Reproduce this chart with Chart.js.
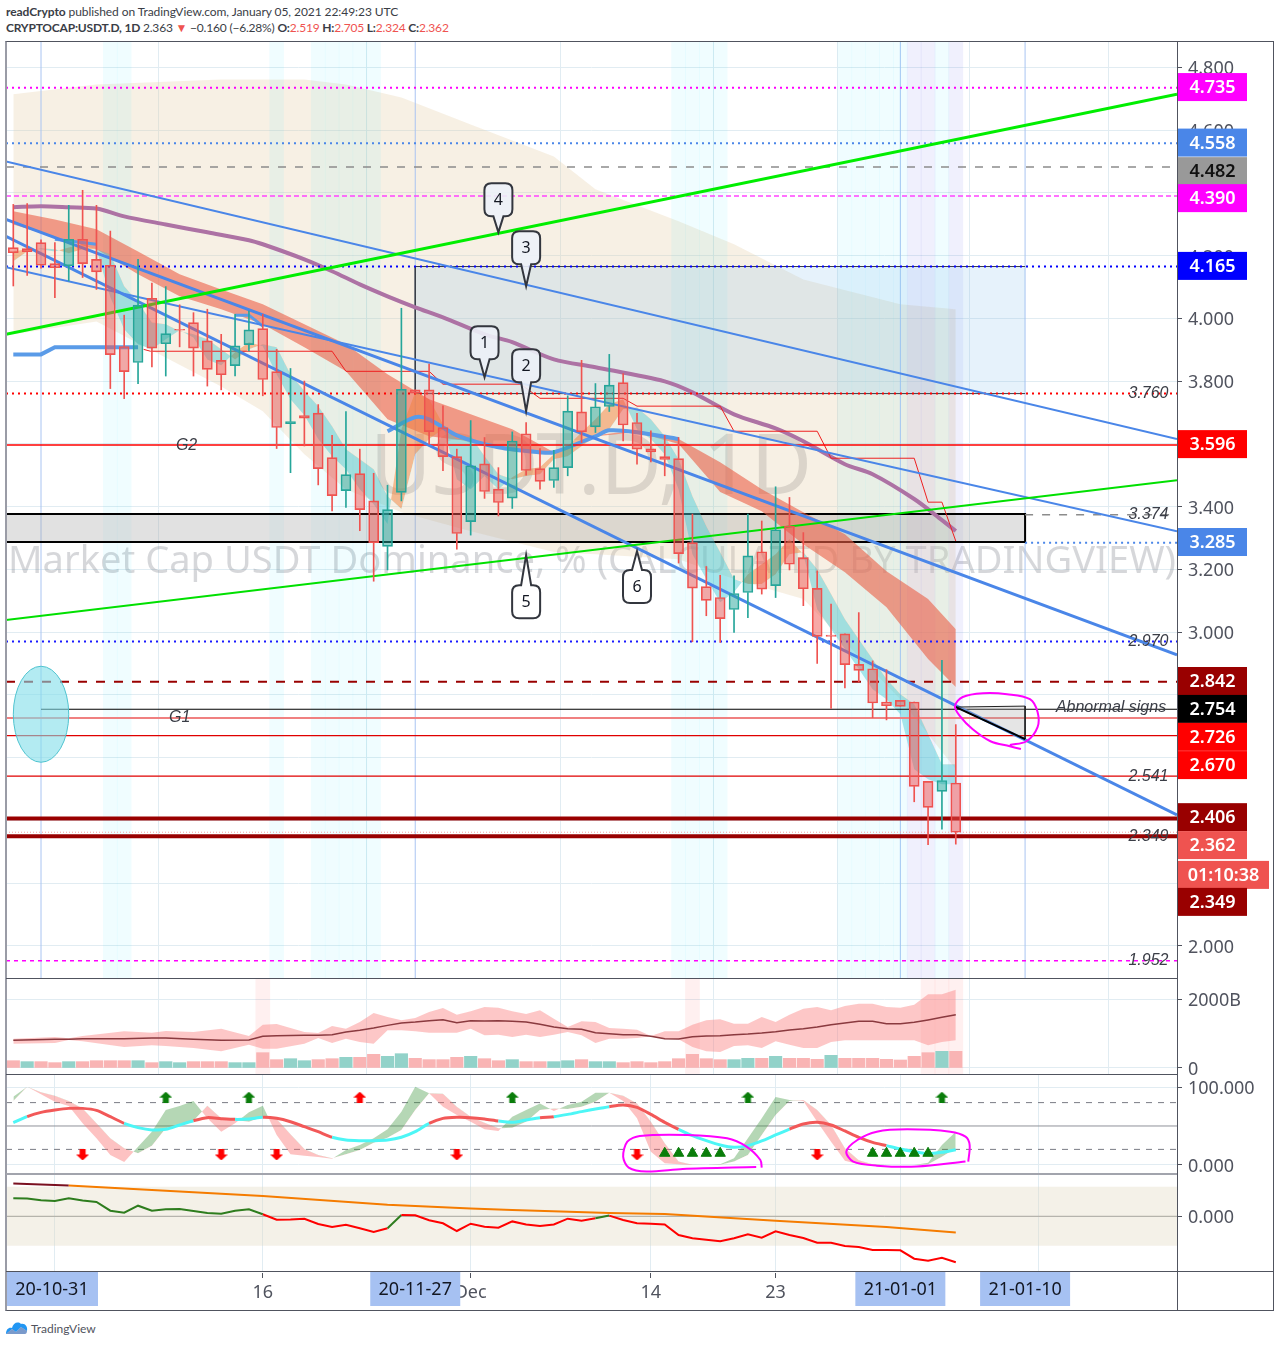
<!DOCTYPE html>
<html>
<head>
<meta charset="utf-8">
<title>USDT.D</title>
<script src="https://cdn.jsdelivr.net/npm/chart.js@4/dist/chart.umd.min.js"></script>
<style>
html,body{margin:0;padding:0;background:#fff;width:1280px;height:1345px;overflow:hidden}
canvas{position:absolute;left:0}
.t{position:absolute;font-family:Lato,"Noto Sans",sans-serif;font-size:12px;color:#3a3d46;white-space:pre}
.r{color:#ef5350}
.ln{position:absolute}
</style>
</head>
<body>
<div class="t" style="left:6px;top:4px;letter-spacing:-.07px"><b>readCrypto</b> published on TradingView.com, January 05, 2021 22:49:23 UTC</div>
<div class="t" style="left:6px;top:20px;letter-spacing:-.2px"><b>CRYPTOCAP:USDT.D, 1D</b> 2.363 <span class="r">▼</span> −0.160 (−6.28%) <b>O:</b><span class="r">2.519</span> <b>H:</b><span class="r">2.705</span> <b>L:</b><span class="r">2.324</span> <b>C:</b><span class="r">2.362</span></div>
<canvas id="cMain" width="1280" height="937" style="top:41px"></canvas>
<canvas id="cVol" width="1280" height="104" style="top:978px"></canvas>
<canvas id="cOsc" width="1280" height="99" style="top:1074px"></canvas>
<canvas id="cMom" width="1280" height="99" style="top:1173px"></canvas>
<canvas id="cAxis" width="1280" height="39" style="top:1272px"></canvas>
<div class="ln" style="left:5px;top:41px;width:1269px;height:1270px;border:1px solid #50535e;border-left:2px solid #9a9ca6;box-sizing:border-box"></div>
<div class="ln" style="left:1177px;top:41px;width:1px;height:1270px;background:#50535e"></div>
<div class="ln" style="left:6px;top:978px;width:1171px;height:1px;background:#50535e"></div>
<div class="ln" style="left:6px;top:1074px;width:1171px;height:1px;background:#50535e"></div>
<div class="ln" style="left:6px;top:1173px;width:1171px;height:2px;background:#a2a4ad"></div>
<div class="ln" style="left:6px;top:1271px;width:1268px;height:1px;background:#50535e"></div>
<svg style="position:absolute;left:5px;top:1320px" width="24" height="16" viewBox="0 0 24 16"><path d="M1 14 C1 9 4 7 7 8 C8 3 13 1 16 4 C20 3 23 7 22 11 L16 7 L11 12 L7 9 Z" fill="#2196f3"/><path d="M1 14 L7 9 L11 12 L16 7 L22 11 C22 13 21 14 20 14 Z" fill="#0d47a1" opacity=".55"/></svg>
<div class="t" style="left:31px;top:1321px;color:#50535e">TradingView</div>
<script>
// ---------- categories ----------
const dates = ['20-10-29','20-10-30','20-10-31','20-11-01','20-11-02','20-11-03','20-11-04','20-11-05','20-11-06','20-11-07','20-11-08','20-11-09','20-11-10','20-11-11','20-11-12','20-11-13','20-11-14','20-11-15','20-11-16','20-11-17','20-11-18','20-11-19','20-11-20','20-11-21','20-11-22','20-11-23','20-11-24','20-11-25','20-11-26','20-11-27','20-11-28','20-11-29','20-11-30','20-12-01','20-12-02','20-12-03','20-12-04','20-12-05','20-12-06','20-12-07','20-12-08','20-12-09','20-12-10','20-12-11','20-12-12','20-12-13','20-12-14','20-12-15','20-12-16','20-12-17','20-12-18','20-12-19','20-12-20','20-12-21','20-12-22','20-12-23','20-12-24','20-12-25','20-12-26','20-12-27','20-12-28','20-12-29','20-12-30','20-12-31','21-01-01','21-01-02','21-01-03','21-01-04','21-01-05'];
// ---------- candles ----------
const open  = [4.225,4.222,4.241,4.174,4.167,4.252,4.188,4.169,3.910,3.859,4.064,3.919,3.965,3.986,3.928,3.866,3.849,3.916,3.967,3.830,3.664,3.690,3.698,3.556,3.451,3.505,3.418,3.273,3.445,3.772,3.772,3.652,3.559,3.352,3.536,3.455,3.427,3.632,3.521,3.483,3.524,3.702,3.654,3.719,3.795,3.668,3.584,3.559,3.553,3.285,3.145,3.110,3.072,3.126,3.256,3.148,3.338,3.237,3.139,2.990,2.994,2.897,2.883,2.777,2.782,2.777,2.524,2.492,2.519];
const high  = [4.363,4.366,4.250,4.241,4.360,4.408,4.360,4.278,4.010,4.188,4.112,4.101,4.043,4.018,4.029,3.949,4.013,4.023,4.013,3.901,3.840,3.800,3.725,3.627,3.703,3.583,3.506,3.468,4.032,3.772,3.854,3.721,3.583,3.674,3.620,3.524,3.638,3.668,3.585,3.579,3.753,3.866,3.792,3.885,3.824,3.697,3.641,3.627,3.620,3.376,3.209,3.181,3.179,3.376,3.354,3.463,3.429,3.317,3.195,3.089,2.994,3.062,2.908,2.880,2.782,2.777,2.524,2.910,2.705];
const low   = [4.103,4.137,4.160,4.066,4.119,4.130,4.092,3.776,3.744,3.792,3.845,3.816,3.909,3.816,3.784,3.772,3.816,3.896,3.753,3.585,3.508,3.593,3.469,3.386,3.397,3.323,3.162,3.198,3.418,3.761,3.599,3.514,3.264,3.309,3.426,3.370,3.394,3.500,3.455,3.461,3.498,3.604,3.636,3.703,3.609,3.535,3.542,3.498,3.220,2.969,3.052,2.967,2.999,3.046,3.121,3.110,3.198,3.084,2.900,2.757,2.822,2.841,2.727,2.720,2.763,2.459,2.322,2.372,2.324];
const close = [4.209,4.212,4.169,4.161,4.252,4.174,4.148,3.884,3.830,4.042,3.905,3.951,3.962,3.905,3.837,3.820,3.912,3.963,3.805,3.652,3.671,3.682,3.521,3.435,3.502,3.390,3.285,3.390,3.774,3.761,3.639,3.559,3.314,3.530,3.448,3.413,3.609,3.515,3.480,3.524,3.704,3.638,3.718,3.787,3.660,3.583,3.574,3.550,3.250,3.140,3.101,3.043,3.123,3.243,3.137,3.326,3.216,3.138,2.986,2.986,2.896,2.878,2.774,2.765,2.763,2.508,2.441,2.527,2.362];
// ---------- indicator series on the price pane ----------
const fastRibbonA = [4.213,4.220,4.220,4.213,4.226,4.236,4.220,4.067,3.965,3.917,3.901,3.933,3.962,3.939,3.869,3.850,3.892,3.924,3.911,3.822,3.742,3.691,3.615,3.560,3.519,3.455,3.407,3.344,3.646,3.764,3.742,3.662,3.487,3.455,3.497,3.455,3.493,3.519,3.525,3.567,3.592,3.637,3.678,3.726,3.742,3.646,3.615,3.567,3.455,3.248,3.169,3.095,3.127,3.184,3.216,3.248,3.296,3.248,3.073,3.009,2.946,2.882,2.818,2.786,2.738,2.563,2.531,2.515,2.515];
const fastRibbonB = [4.182,4.213,4.223,4.220,4.207,4.220,4.220,4.204,4.102,4.051,3.987,3.981,3.959,3.949,3.933,3.901,3.869,3.901,3.917,3.908,3.822,3.768,3.720,3.656,3.583,3.551,3.519,3.433,3.392,3.567,3.615,3.646,3.615,3.624,3.560,3.503,3.487,3.497,3.503,3.551,3.560,3.592,3.624,3.646,3.710,3.716,3.678,3.624,3.551,3.433,3.337,3.254,3.169,3.153,3.153,3.184,3.248,3.254,3.200,3.121,3.041,2.977,2.913,2.850,2.802,2.770,2.675,2.579,2.579];
const slowRibbonDays  = [0,3,6,9,12,15,18,21,24,27,30,33,36,39,42,45,48,51,54,57,60,63,66,68];
const slowRibbonUpper = [4.341,4.315,4.284,4.213,4.140,4.092,4.045,3.981,3.917,3.822,3.742,3.694,3.646,3.573,3.627,3.643,3.615,3.541,3.455,3.382,3.312,3.194,3.105,3.009];
const slowRibbonLower = [4.299,4.258,4.220,4.140,4.070,4.029,3.981,3.908,3.831,3.678,3.624,3.608,3.576,3.567,3.624,3.637,3.599,3.446,3.385,3.280,3.191,3.079,2.914,2.825];
const cloudDays  = [0,6,15,18,21,24,28,33,39,42,48,52,57,64,68];
const cloudUpper = [4.714,4.745,4.761,4.761,4.761,4.745,4.704,4.618,4.516,4.411,4.309,4.236,4.124,4.045,4.029];
const cloudLower = [3.949,3.990,3.783,3.704,3.567,3.455,3.382,3.321,3.255,3.248,3.232,3.169,3.105,2.786,2.563];
const purpleDays = [0,2,4,6,8,11,14,17,18,21,23,25,27,29,31,34,36,39,42,47,49,52,55,57,60,62,65,67,68];
const purpleMA   = [4.354,4.357,4.354,4.350,4.325,4.299,4.274,4.249,4.236,4.188,4.150,4.108,4.070,4.035,4.003,3.949,3.924,3.869,3.844,3.799,3.764,3.694,3.649,3.608,3.535,3.503,3.424,3.357,3.322];
const blueMaDaysA = [0,2,3,9];
const blueMaA     = [3.885,3.885,3.908,3.908];
const blueMaDaysB = [3,6];
const blueMaB     = [4.252,4.236];
const blueMaDaysC = [16,17,18];
const blueMaC     = [4.010,4.010,3.975];
const blueMaDaysD = [27,29,30,32,35,38,39,42,43,45,48];
const blueMaD     = [3.640,3.685,3.678,3.627,3.589,3.573,3.573,3.624,3.643,3.637,3.615];
const stepDays  = [9.4,9.9,23,24,30,31,36.6,38,44,45,51,52,58,59,65,66,67,68];
const stepValue = [3.901,3.895,3.895,3.831,3.831,3.790,3.790,3.745,3.745,3.720,3.720,3.640,3.640,3.554,3.554,3.414,3.414,3.290];
const cyanDays = [7,8,19,22,23,24,25,26,48,49,50,51,60,61,62,63,64,67];
const lavenderDays = [65,66,68];
// ---------- drawings ----------
const levels = [4.735,4.558,4.482,4.390,4.165,3.760,3.596,3.374,3.285,2.970,2.842,2.754,2.726,2.670,2.541,2.406,2.349,2.362,1.952];
const trendDays  = [-0.527,83.96];
const trend1 = [4.500,3.615];
const trend2 = [4.163,3.321];
const trend3 = [4.261,2.417];
const trend4 = [4.315,2.927];
const trend5 = [3.949,4.714];
const trend6 = [3.038,3.484];
const boxDays = [-0.527,-0.527,73,73,-0.527];
const boxValues = [3.287,3.376,3.376,3.287,3.287];
const zoneDays = [73,29,29,73];
const zoneValues = [4.165,4.165,3.760,3.760];
const wedgeDays = [68,73,73,68];
const wedgeValues = [2.761,2.764,2.659,2.761];
const ellipseCenterDay = 2, ellipseCenterValue = 2.738, ellipseDayRadius = 2, ellipseValueRadius = 0.153;
const scribbleDays = [71.9,73.1,73.9,73.9,73.35,71.7,69.96,68.5,67.94,68.3,69.2,70.5,71.9,72.7];
const scribbleValues = [2.640,2.652,2.697,2.745,2.786,2.802,2.805,2.793,2.764,2.732,2.691,2.652,2.636,2.627];
const calloutLabels = ['1','2','3','4','5','6'];
const calloutDays = [34,37,37,35,37,45];
const calloutValues = [3.812,3.704,4.102,4.274,3.245,3.258];
const noteLabels = ['3.760','3.374','2.970','Abnormal signs','2.541','2.349','1.952','G2','G1'];
const noteDays = [81.9,81.9,81.9,79.2,81.9,81.9,81.9,12.5,12];
const noteValues = [3.760,3.374,2.970,2.760,2.541,2.349,1.952,3.596,2.726];
const tagLabels = ['4.735','4.558','4.482','4.390','4.165','3.596','3.285','2.842','2.754','2.726','2.670','2.406','2.362','01:10:38','2.349'];
const tagAnchors = [4.737,4.560,4.469,4.383,4.167,3.599,3.287,2.844,2.755,2.666,2.576,2.410,2.321,2.226,2.140];
const watermark1 = 'USDT.D, 1D';
const watermark2 = 'Market Cap USDT Dominance, % (CALCULATED BY TRADINGVIEW)';
// ---------- volume pane ----------
const volume = [212,184,184,155,184,184,212,212,212,212,155,184,155,184,184,184,155,155,444,242,270,212,242,270,309,309,396,338,415,280,242,242,309,338,270,212,242,184,184,184,212,242,184,184,155,184,155,184,270,396,270,242,242,280,280,338,280,280,251,367,280,280,280,251,232,338,444,483,483];
const volumeUpDays = [1,4,9,11,12,16,17,20,21,24,27,28,33,36,39,40,42,43,52,53,55,59,67];
const volBandDays = [0,3,4,5,8,10,11,13,15,17,18,19,21,22,23,24,25,26,27,28,29,30,31,32,33,34,35,36,37,38,39,40,41,42,43,44,45,46,47,48,49,50,51,52,53,54,55,56,57,58,59,60,61,62,63,64,65,66,67,68];
const volUpper = [850,898,860,927,1063,1024,1072,1043,1140,927,1256,1275,1043,1014,1217,1140,1333,1594,1478,1381,1449,1623,1739,1546,1642,1768,1748,1642,1565,1671,1430,1188,1352,1333,1159,1140,1111,927,1063,1063,1256,1381,1410,1285,1285,1478,1333,1546,1719,1768,1671,1797,1864,1864,1768,1748,1835,2135,2135,2270];
const volLower = [705,725,811,773,609,657,638,580,483,676,560,560,705,869,725,850,753,705,1092,1092,1063,1024,1024,1024,1140,947,966,898,966,898,966,1043,947,725,850,850,869,918,831,831,609,483,464,638,657,580,773,676,580,580,753,802,802,802,802,802,802,657,753,802];
const volMA    = [802,831,831,850,850,869,869,831,802,811,918,937,947,947,966,1043,1092,1159,1236,1304,1333,1372,1401,1314,1372,1362,1372,1352,1333,1265,1188,1140,1121,1024,995,966,966,918,850,840,908,927,937,966,985,1014,1053,1101,1140,1188,1256,1304,1352,1352,1285,1285,1323,1391,1468,1546];
const volAlertDays = [18,49,66,67,68];
// ---------- oscillator pane ----------
const stochK = [87.6,100.4,90.6,81.2,75.6,53.4,34.2,12.8,3.8,23.5,42.7,70.5,75.6,82,59.8,42.7,53.4,67.5,76,38.5,13.6,11.9,10.2,8.1,19.2,25.6,34.2,45.7,68.4,100.4,91.9,74.8,64.1,55.5,45.7,43.6,62,70.5,79,69.2,76.9,81.2,92.7,92.7,82,59.8,17.1,2.1,0.8,0,0,0.8,8.5,34.2,59.8,87.2,83.3,82,55.5,29.9,5.5,0.8,0,0,0,0,3,25.6,42.7];
const stochD = [82,100.4,93.2,88.9,82,72.6,53.4,34.2,21.4,14.9,24.8,47,51.3,56.8,76,59.8,57.7,55.5,62,59,39.3,20.5,12.8,8.5,13.6,19.2,28.6,35,44.9,70.5,91.9,91.4,74.8,62,54.3,47,47.9,55.5,70.5,72.6,71.8,74.8,81.2,92.7,88.9,79,55.5,27.8,4.3,0.4,0,0.4,4.3,12.8,38.5,64.1,82,83.3,70.5,51.3,21.4,6,0.8,0,0,0,0.8,10.7,21.4];
const oscLine = [54.3,62,67.5,70.5,72.6,72.6,70.1,62,53.4,47.9,44.9,45.7,51.3,56.8,60.7,59.4,58.5,59,61.1,59.8,55.5,49.1,42.7,35.5,32,31.2,31.2,32,35.5,42.7,53.4,59.8,61.1,60.7,59,56.4,54.7,57.7,60.7,62,64.9,68.4,71.8,74.8,76.9,73.9,64.9,54.7,45.7,37.6,31.2,25.6,22.6,24.8,30.8,38.5,46.1,52.6,54.7,51.3,43.6,35.5,29,24.8,20.5,17.1,14.5,16.2,19.6];
const oscRedRanges = [[1,8],[13,16],[18,23],[30,35],[38,39],[43,48],[56,63]];
const oscLevels = [80,50,20];
const upArrowGreenDays = [11,17,36,53,67];
const upArrowRedDays = [25];
const downArrowDays = [5,15,19,32,45,58];
const triangleDays = [47,48,49,50,51,62,63,64,65,66];
const upArrowLevel = 87, downArrowLevel = 12.8, triangleLevel = 15;
const scribbleADays = [54,53.9,52.9,51.5,48.6,45.2,44.3,44,44.4,45.7,48.3,53.6];
const scribbleAValues = [-3.4,6.4,23.5,34.2,38.5,37.2,29.9,10.7,-3.4,-8.5,-5.1,-2.6];
const scribbleBDays = [68.9,69,68.7,67.6,64.5,62.3,60.9,60.1,60.6,62.3,65.2,68.7];
const scribbleBValues = [4.3,25.6,36.3,42.7,45.7,42.7,32,17.1,4.3,-0.9,-2.1,4.3];
// ---------- momentum pane ----------
const momentum = [.0180,.0177,.0160,.0153,.0180,.0157,.0143,.0056,.0036,.0106,.0056,.0070,.0073,.0053,.0033,.0026,.0056,.0070,.0020,-.0034,-.0031,-.0024,-.0077,-.0107,-.0084,-.0120,-.0157,-.0120,.0013,.0010,-.0040,-.0070,-.0147,-.0074,-.0104,-.0114,-.0051,-.0081,-.0097,-.0081,-.0024,-.0044,-.0020,.0007,-.0037,-.0070,-.0074,-.0081,-.0187,-.0220,-.0234,-.0250,-.0220,-.0181,-.0214,-.0151,-.0187,-.0217,-.0264,-.0264,-.0297,-.0307,-.0337,-.0337,-.0340,-.0424,-.0444,-.0414,-.0460];
const momGreenRanges = [[0,18],[27,28],[42,43]];
const slowMomDays = [0,4,8,18,27,33,36,43,47,55,63,68];
const slowMom = [.0328,.0308,.0278,.0202,.0115,.0079,.0062,.0032,.0022,-.0045,-.0108,-.0161];
const momBandDays = [-0.45,-0.45,83.96,83.96,-0.45];
const momBandValues = [-.0295,.0295,.0295,-.0295,-.0295];
// ---------- axes ----------
const xMin = -0.527, xMax = 83.96;
const gridDays = [3,18,33,46,55,64,74];
const markerDays = [2,29,64,73];
const axisTickDays = [3,18,33,46,55,64,74];
const axisTickLabels = ['Nov','16','Dec','14','23','2021','10'];
const dateTagLabels = ['20-10-31','20-11-27','21-01-01','21-01-10'];
const dateTagDays = [2,29,64,73];
const priceTicks = [2,2.2,2.4,2.6,2.8,3,3.2,3.4,3.6,3.8,4,4.2,4.4,4.6,4.8];
const volTicks = [0,2000];
const oscTicks = [0,100];
const momTicks = [0];

// ---------- styling and layout (separate from the data) ----------
const FONT = '"Noto Sans", sans-serif';
const AXIS_COL = '#50535e';
const GRID_COL = '#e1ecf2';
const tagStyle = [['#ff00ff','#fff'],['#4a86e8','#fff'],['#999999','#111'],['#ff00ff','#fff'],['#0000ff','#fff'],['#ff0000','#fff'],['#4a86e8','#fff'],['#990000','#fff'],['#000000','#fff'],['#ff0000','#fff'],['#ff0000','#fff'],['#990000','#fff'],['#ef5350','#fff'],['#ef5350','#fff'],['#990000','#fff']];
const tagWide = {13:91};
const levelStyle = [
 {c:'#ff00ff',w:2,d:[2,4]},{c:'#4a86e8',w:2,d:[2,4]},{c:'#8c8c8c',w:1.5,d:[8,9]},{c:'#ff44ff',w:1.5,d:[5,3]},
 {c:'#0000ff',w:2,d:[2,4]},{c:'#ff0000',w:2,d:[2,4]},{c:'#ff0000',w:1.4,d:[]},{c:'#8c8c8c',w:1.5,d:[8,9],from:73},
 {c:'#4a86e8',w:2,d:[2,4],from:73},{c:'#1a1aff',w:2,d:[2,4]},{c:'#990000',w:2,d:[9,9]},{c:'#000000',w:1.2,d:[],from:2},
 {c:'#f08080',w:2,d:[]},{c:'#e00000',w:1.3,d:[]},{c:'#e00000',w:1.3,d:[]},{c:'#990000',w:4,d:[]},{c:'#990000',w:4,d:[]},
 {c:'#f4a0a0',w:1,d:[1,2]},{c:'#ff00ff',w:1.5,d:[4,4]}];

const pts = (xs,ys) => xs.map((x,i)=>({x,y:ys[i]}));
const line = (xs,ys,color,width,extra) => Object.assign({type:'line',data:pts(xs,ys),borderColor:color,borderWidth:width,pointRadius:0,fill:false,tension:0},extra||{});
const dayIndex = dates.map((d,i)=>i);
const inRanges = (i,r) => r.some(([a,b])=>i>=a && i<b);

function xScale(){
  return {type:'linear',min:xMin,max:xMax,offset:false,
    afterBuildTicks:s=>{s.ticks=gridDays.map(v=>({value:v}));},
    ticks:{display:false,autoSkip:false},border:{display:false},
    grid:{drawTicks:false,lineWidth:1,color:GRID_COL}};
}
function yScale(min,max,ticks,fmt,gridCol){
  return {type:'linear',position:'right',min,max,
    afterFit:s=>{s.width=103;s.paddingTop=0;s.paddingBottom=0;},
    afterBuildTicks:s=>{s.ticks=ticks.map(v=>({value:v}));},
    border:{display:false},
    grid:{color:gridCol||GRID_COL,tickColor:AXIS_COL,tickLength:5,drawOnChartArea:true},
    // an empty first line with a small line height lowers the text to where the reference has it
    ticks:{autoSkip:false,padding:6,color:AXIS_COL,font:{family:FONT,size:18,lineHeight:'4px'},callback:v=>['',fmt(v)]}};
}
function options(x,y,bottom){
  return {responsive:false,animation:false,events:[],
    layout:{autoPadding:false,padding:{left:6,right:0,top:0,bottom:bottom||0}},
    plugins:{legend:{display:false},tooltip:{enabled:false},filler:{propagate:false}},
    scales:{x,y}};
}

// ----- price pane plugins -----
const watermarkPlugin = {id:'wm',beforeDatasetsDraw(ch){
  const c=ch.ctx;c.save();c.fillStyle='rgba(120,123,134,.30)';c.textBaseline='middle';c.textAlign='center';
  c.font='84px '+FONT;c.fillText(watermark1,591,429);
  c.font='39px '+FONT;c.fillText(watermark2,592,521,1168);
  c.restore();}};
const annotationPlugin = {id:'ann',afterDatasetsDraw(ch){
  const c=ch.ctx,X=ch.scales.x,Y=ch.scales.y;
  c.save();
  const ex=X.getPixelForValue(ellipseCenterDay),ey=Y.getPixelForValue(ellipseCenterValue);
  const erx=Math.abs(X.getPixelForValue(ellipseCenterDay+ellipseDayRadius)-ex),ery=Math.abs(Y.getPixelForValue(ellipseCenterValue+ellipseValueRadius)-ey);
  c.beginPath();c.ellipse(ex,ey,erx,ery,0,0,Math.PI*2);c.fillStyle='rgba(128,222,234,.6)';c.fill();c.lineWidth=1;c.strokeStyle='#4fc3cf';c.stroke();
  c.fillStyle='#3a3d46';c.textBaseline='middle';c.textAlign='center';c.font='italic 16px "Liberation Sans", sans-serif';
  noteLabels.forEach((t,i)=>c.fillText(t,X.getPixelForValue(noteDays[i]),Y.getPixelForValue(noteValues[i])));
  const box=[-18,-29,-22,-16,30,19];
  calloutLabels.forEach((t,i)=>{
    const tx=X.getPixelForValue(calloutDays[i]),ty=Y.getPixelForValue(calloutValues[i]);
    const h=33,w=28,tail=Math.abs(box[i]),down=box[i]<0;
    const top=down?ty-tail-h:ty+tail,left=tx-w/2,r=7;
    c.beginPath();c.moveTo(left+r,top);
    if(!down){c.lineTo(tx-5,top);c.lineTo(tx,ty);c.lineTo(tx+5,top);}
    c.lineTo(left+w-r,top);c.quadraticCurveTo(left+w,top,left+w,top+r);
    c.lineTo(left+w,top+h-r);c.quadraticCurveTo(left+w,top+h,left+w-r,top+h);
    if(down){c.lineTo(tx+5,top+h);c.lineTo(tx,ty);c.lineTo(tx-5,top+h);}
    c.lineTo(left+r,top+h);c.quadraticCurveTo(left,top+h,left,top+h-r);
    c.lineTo(left,top+r);c.quadraticCurveTo(left,top,left+r,top);c.closePath();
    c.fillStyle=i<4?'rgba(236,241,248,.9)':'#ffffff';c.fill();
    c.lineWidth=2;c.strokeStyle='#33363e';c.stroke();
    c.fillStyle='#131722';c.font='16px '+FONT;c.fillText(t,tx,top+h/2+1);
  });
  c.restore();},
 afterDraw(ch){
  const c=ch.ctx,Y=ch.scales.y;
  c.save();c.textAlign='center';c.textBaseline='middle';c.font='600 18px '+FONT;
  tagLabels.forEach((t,i)=>{
    const y=Y.getPixelForValue(tagAnchors[i]);
    const w=tagWide[i]||69;
    c.fillStyle=tagStyle[i][0];c.fillRect(1178,y-14,w,28);
    c.fillStyle=tagStyle[i][1];c.fillText(t,1178+w/2,y+1);
  });
  c.restore();}};
const axisTagPlugin = {id:'atag',afterDraw(ch){
  const c=ch.ctx,X=ch.scales.x;c.save();c.textAlign='center';c.textBaseline='middle';c.font='18px '+FONT;
  dateTagLabels.forEach((t,i)=>{
    const left=Math.max(6,X.getPixelForValue(dateTagDays[i])-45),w=i==0?92:90;
    c.fillStyle='#a6c1f2';c.fillRect(left,0,w,34);
    c.fillStyle='#131722';c.fillText(t,left+w/2,18);
  });c.restore();}};

// ----- main chart -----
const yMinP=1.8974,yMaxP=4.8838;
const up = dayIndex.map(i=>close[i]>=open[i]);
const wickCol = up.map(u=>u?'#26a69a':'#ef5350');
const trendStyle=[['#4a86e8',2],['#4a86e8',2],['#4a86e8',3],['#4a86e8',3],['#00ee00',3],['#00e000',2]];
const mainSets=[
  line(cloudDays,cloudUpper,'transparent',0,{order:100,fill:{target:'+1',above:'rgba(230,205,165,.3)',below:'rgba(230,205,165,.3)'}}),
  line(cloudDays,cloudLower,'transparent',0,{order:100}),
  {type:'bar',grouped:false,order:95,barThickness:14,backgroundColor:'rgba(0,229,255,.06)',data:cyanDays.map(i=>({x:i,y:[yMinP,yMaxP]}))},
  {type:'bar',grouped:false,order:95,barThickness:14,backgroundColor:'rgba(110,110,240,.1)',data:lavenderDays.map(i=>({x:i,y:[yMinP,yMaxP]}))},
  line(zoneDays,zoneValues,'#3a3d46',1,{order:90,fill:{target:'shape'},backgroundColor:'rgba(130,190,235,.2)'}),
  line(boxDays,boxValues,'#000000',2,{order:89,fill:{target:'shape'},backgroundColor:'rgba(170,170,170,.35)'}),
  line(slowRibbonDays,slowRibbonUpper,'transparent',0,{order:80,fill:{target:'+1',above:'rgba(235,95,70,.6)',below:'rgba(235,95,70,.6)'}}),
  line(slowRibbonDays,slowRibbonLower,'transparent',0,{order:80}),
  line(dayIndex,fastRibbonA,'transparent',0,{order:79,fill:{target:'+1',above:'rgba(240,130,60,.5)',below:'rgba(70,200,210,.45)'}}),
  line(dayIndex,fastRibbonB,'transparent',0,{order:79}),
  line(purpleDays,purpleMA,'#ad72a4',4,{order:70,tension:.3}),
  line(blueMaDaysA,blueMaA,'#5a9be8',4,{order:70}),
  line(blueMaDaysB,blueMaB,'#5a9be8',3,{order:70}),
  line(blueMaDaysC,blueMaC,'#5a9be8',3,{order:70}),
  line(blueMaDaysD,blueMaD,'#5a9be8',4,{order:70,tension:.3}),
  line(stepDays,stepValue,'#ee2020',1,{order:69}),
];
markerDays.forEach(d=>mainSets.push(line([d,d],[yMinP,yMaxP],'#a9c4f2',1,{order:96})));
levels.forEach((v,i)=>{const s=levelStyle[i];
  mainSets.push(line([s.from===undefined?xMin:s.from,xMax],[v,v],s.c,s.w,{order:60,borderDash:s.d}));});
[trend1,trend2,trend3,trend4,trend5,trend6].forEach((t,i)=>
  mainSets.push(line(trendDays,t,trendStyle[i][0],trendStyle[i][1],{order:i>3?49:50})));
mainSets.push(
  line(wedgeDays,wedgeValues,'#222',1,{order:48,fill:{target:'shape'},backgroundColor:'rgba(170,170,170,.3)'}),
  line([68,73],[2.761,2.659],'#000',2,{order:47}),
  {type:'bar',grouped:false,order:20,barThickness:1,backgroundColor:wickCol,data:dayIndex.map(i=>({x:i,y:[low[i],Math.min(open[i],close[i])]}))},
  {type:'bar',grouped:false,order:20,barThickness:1,backgroundColor:wickCol,data:dayIndex.map(i=>({x:i,y:[Math.max(open[i],close[i]),high[i]]}))},
  {type:'bar',grouped:false,order:19,barThickness:10,borderWidth:1,borderSkipped:false,
   backgroundColor:up.map(u=>u?'rgba(38,166,154,.5)':'rgba(239,83,80,.5)'),borderColor:wickCol,
   data:dayIndex.map(i=>({x:i,y:[open[i],close[i]]}))},
  line(scribbleDays,scribbleValues,'#ff00ff',2,{order:5,tension:.35})
);
const main=new Chart(document.getElementById('cMain'),{type:'line',data:{datasets:mainSets},
  options:options(xScale(),yScale(yMinP,yMaxP,priceTicks,v=>Number(v).toFixed(3))),
  plugins:[watermarkPlugin,annotationPlugin]});

// ----- volume -----
new Chart(document.getElementById('cVol'),{type:'line',data:{datasets:[
  {type:'bar',grouped:false,order:50,barThickness:14,backgroundColor:'rgba(255,60,60,.08)',data:volAlertDays.map(i=>({x:i,y:[-174,2609]}))},
  line(volBandDays,volUpper,'transparent',0,{order:40,fill:{target:'+1',above:'rgba(250,130,130,.45)',below:'rgba(250,130,130,.45)'}}),
  line(volBandDays,volLower,'transparent',0,{order:40}),
  {type:'bar',grouped:false,order:30,barThickness:12.5,
    backgroundColor:dayIndex.map(i=>volumeUpDays.includes(i)?'#92d2c9':'#f9b4b4'),data:dayIndex.map(i=>({x:i,y:volume[i]}))},
  line(volBandDays,volMA,'#8a3a3f',1.5,{order:20}),
]},options:options(xScale(),yScale(-174,2609,volTicks,v=>v==0?'0':'2000B'),8)});

// ----- oscillator -----
function arrow(color,isUp){
  const cv=document.createElement('canvas');cv.width=13;cv.height=11;const c=cv.getContext('2d');
  c.fillStyle=color;c.beginPath();
  if(isUp){c.moveTo(6.5,0);c.lineTo(13,6);c.lineTo(9.5,6);c.lineTo(9.5,11);c.lineTo(3.5,11);c.lineTo(3.5,6);c.lineTo(0,6);}
  else{c.moveTo(6.5,11);c.lineTo(13,5);c.lineTo(9.5,5);c.lineTo(9.5,0);c.lineTo(3.5,0);c.lineTo(3.5,5);c.lineTo(0,5);}
  c.closePath();c.fill();return cv;
}
const markSet=(days,level,style,order,extra)=>Object.assign({type:'line',showLine:false,order,pointStyle:style,pointRadius:6,data:days.map(d=>({x:d,y:level}))},extra||{});
const oscSets=[
  line([xMin,xMax],[oscLevels[0],oscLevels[0]],'#7a7c85',1,{order:60,borderDash:[6,6]}),
  line([xMin,xMax],[oscLevels[1],oscLevels[1]],'#8f9199',1,{order:60}),
  line([xMin,xMax],[oscLevels[2],oscLevels[2]],'#7a7c85',1,{order:60,borderDash:[6,6]}),
  line(dayIndex,stochK,'transparent',0,{order:50,fill:{target:'+1',above:'rgba(60,150,60,.38)',below:'rgba(250,110,110,.42)'}}),
  line(dayIndex,stochD,'transparent',0,{order:50}),
  line(dayIndex,oscLine,'#4df6f6',3,{order:40,tension:.25,segment:{borderColor:c=>inRanges(c.p0DataIndex,oscRedRanges)?'#f25858':'#4df6f6'}}),
  markSet(upArrowGreenDays,upArrowLevel,arrow('#0a7d0a',true),30),
  markSet(upArrowRedDays,upArrowLevel,arrow('#ff0000',true),30),
  markSet(downArrowDays,downArrowLevel,arrow('#ff0000',false),30),
  markSet(triangleDays,triangleLevel,'triangle',29,{backgroundColor:'#0a7d0a',borderColor:'#0a7d0a',pointRadius:6}),
  line(scribbleADays,scribbleAValues,'#ff00ff',2,{order:5,tension:.3}),
  line(scribbleBDays,scribbleBValues,'#ff00ff',2,{order:5,tension:.3}),
];
new Chart(document.getElementById('cOsc'),{type:'line',data:{datasets:oscSets},
  options:options(xScale(),yScale(-10.3,116.7,oscTicks,v=>Number(v).toFixed(3)))});

// ----- momentum -----
new Chart(document.getElementById('cMom'),{type:'line',data:{datasets:[
  line(momBandDays,momBandValues,'transparent',0,{order:60,fill:{target:'shape'},backgroundColor:'rgba(225,215,190,.36)'}),
  line([xMin,xMax],[0,0],'#aaa79f',1,{order:50}),
  line(slowMomDays,slowMom,'#f57c00',2,{order:40,segment:{borderColor:c=>c.p0DataIndex<1?'#7a1020':'#f57c00'}}),
  line(dayIndex,momentum,'#ff0000',2,{order:30,segment:{borderColor:c=>inRanges(c.p0DataIndex,momGreenRanges)?'#2e7d1e':'#ff0000'}}),
]},options:options(xScale(),yScale(-.0557,.0433,momTicks,v=>Number(v).toFixed(3)))});

// ----- time axis -----
new Chart(document.getElementById('cAxis'),{type:'line',data:{datasets:[]},
  options:{responsive:false,animation:false,events:[],
    layout:{autoPadding:false,padding:{left:6,right:0,top:0,bottom:0}},
    plugins:{legend:{display:false},tooltip:{enabled:false}},
    scales:{
      x:{type:'linear',min:xMin,max:xMax,position:'bottom',
         afterFit:s=>{s.height=38;s.paddingLeft=0;s.paddingRight=0;},
         afterBuildTicks:s=>{s.ticks=axisTickDays.map(v=>({value:v}));},
         border:{display:false},grid:{display:true,drawOnChartArea:false,tickColor:AXIS_COL,tickLength:5},
         ticks:{autoSkip:false,maxRotation:0,padding:4,color:AXIS_COL,font:{family:FONT,size:18},
           callback:v=>axisTickLabels[axisTickDays.indexOf(v)]}},
      y:{type:'linear',position:'right',min:0,max:1,afterFit:s=>{s.width=103;},ticks:{display:false},grid:{display:false},border:{display:false}}
    }},
  plugins:[axisTagPlugin]});
</script>
</body>
</html>
